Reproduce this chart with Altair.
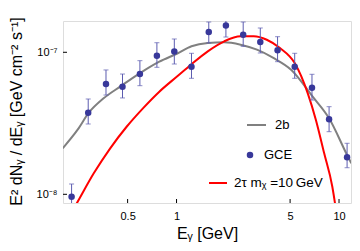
import altair as alt
import pandas as pd

# GCE data points (E in GeV, E^2 dN/dE in GeV cm^-2 s^-1)
E_pts = [0.226, 0.286, 0.368, 0.465, 0.595, 0.757, 0.969, 1.236, 1.579, 2.013,
         2.572, 3.277, 4.186, 5.336, 6.817, 8.686, 11.21]
flux = [9.62e-9, 3.755e-8, 5.98e-8, 5.725e-8, 7.03e-8, 9.46e-8, 1.013e-7, 7.92e-8,
        1.39e-7, 1.544e-7, 1.33e-7, 1.182e-7, 1.033e-7, 7.92e-8, 5.63e-8, 3.375e-8, 1.822e-8]
err_hi = [1.181e-8, 4.69e-8, 7.51e-8, 7.03e-8, 8.73e-8, 1.168e-7, 1.241e-7, 9.84e-8,
          1.634e-7, 1.862e-7, 1.634e-7, 1.483e-7, 1.288e-7, 9.84e-8, 7.00e-8, 4.14e-8, 2.287e-8]
err_lo = [7.83e-9, 3.127e-8, 5.00e-8, 4.77e-8, 5.82e-8, 7.84e-8, 8.27e-8, 6.56e-8,
          1.163e-7, 1.281e-7, 1.102e-7, 9.89e-8, 8.59e-8, 6.56e-8, 4.61e-8, 2.76e-8, 1.539e-8]

# 2b curve
E_2b = [0.1993, 0.2456, 0.2886, 0.3557, 0.4488, 0.593, 0.7836, 1.011, 1.236, 1.557,
        1.966, 2.48, 3.125, 3.944, 5.089, 6.885, 8.686, 11.21, 11.9]
F_2b = [2.11e-8, 2.84e-8, 3.755e-8, 4.74e-8, 5.725e-8, 7.11e-8, 8.59e-8, 9.81e-8,
        1.102e-7, 1.163e-7, 1.176e-7, 1.131e-7, 1.043e-7, 9.12e-8, 7.51e-8, 4.87e-8,
        3.43e-8, 1.89e-8, 1.653e-8]

# 2tau, m_chi = 10 GeV curve
E_tau = [0.2, 0.2432, 0.3094, 0.3906, 0.4929, 0.6212, 0.7836, 1.011, 1.236, 1.557,
         1.966, 2.48, 2.985, 3.592, 4.329, 5.336, 6.422, 7.206, 8.104, 9.095, 9.446, 9.75]
F_tau = [5.89e-9, 8.64e-9, 1.405e-8, 2.108e-8, 2.99e-8, 4.03e-8, 5.28e-8, 6.78e-8,
         8.25e-8, 1.016e-7, 1.195e-7, 1.296e-7, 1.296e-7, 1.226e-7, 1.072e-7, 8.4e-8,
         5.14e-8, 3.34e-8, 1.944e-8, 1.131e-8, 8.64e-9, 6.6e-9]

x_ticks = [0.5, 1, 5, 10]
y_ticks = [1e-8, 1e-7]

FONT = "Liberation Sans"
W, H = 288, 182

pts = pd.DataFrame({"E": E_pts, "F": flux, "hi": err_hi, "lo": err_lo})
c2b = pd.DataFrame({"E": E_2b, "F": F_2b})
ctau = pd.DataFrame({"E": E_tau, "F": F_tau})
one = pd.DataFrame({"a": [0]})

xs = alt.Scale(type="log", domain=[0.2001, 11.85], nice=False)
ys = alt.Scale(type="log", domain=[8.685e-9, 1.661e-7], nice=False)

x_axis = alt.Axis(values=x_ticks, ticks=False, tickSize=0, domain=False, grid=False,
                  labelFont=FONT, labelFontSize=11, labelColor="black", labelPadding=7,
                  labelExpr="datum.value == 0.5 ? '0.5' : format(datum.value, 'd')",
                  title="Eᵧ  [GeV]", titleFont=FONT, titleFontSize=16, titleFontWeight="normal",
                  titleColor="black", titleBaseline="alphabetic", titleY=35)
y_axis = alt.Axis(values=y_ticks, ticks=False, tickSize=0, domain=False, grid=False,
                  labelFont=FONT, labelFontSize=11, labelColor="black", labelPadding=6,
                  labelExpr="datum.value < 5e-8 ? '10⁻⁸' : '10⁻⁷'",
                  title="E² dNᵧ / dEᵧ   [GeV cm⁻² s⁻¹]", titleFont=FONT, titleFontSize=16,
                  titleFontWeight="normal", titleColor="black", titleAngle=-90,
                  titleBaseline="alphabetic", titleX=-42, titleY=90, titleAlign="center")

gray = alt.Chart(c2b).mark_line(color="#808080", strokeWidth=2, interpolate="monotone", clip=True).encode(
    x=alt.X("E:Q", scale=xs, axis=x_axis),
    y=alt.Y("F:Q", scale=ys, axis=y_axis),
)
red = alt.Chart(ctau).mark_line(color="#ff0000", strokeWidth=2, interpolate="monotone", clip=True).encode(
    x=alt.X("E:Q", scale=xs), y=alt.Y("F:Q", scale=ys)
)
bars = alt.Chart(pts).mark_rule(color="#5c5cb0", strokeWidth=1, clip=True).encode(
    x=alt.X("E:Q", scale=xs), y=alt.Y("lo:Q", scale=ys), y2="hi:Q"
)
cap_hi = alt.Chart(pts).mark_tick(color="#5c5cb0", orient="horizontal", size=5, thickness=1, clip=True).encode(
    x=alt.X("E:Q", scale=xs), y=alt.Y("hi:Q", scale=ys)
)
cap_lo = alt.Chart(pts).mark_tick(color="#5c5cb0", orient="horizontal", size=5, thickness=1, clip=True).encode(
    x=alt.X("E:Q", scale=xs), y=alt.Y("lo:Q", scale=ys)
)
dots = alt.Chart(pts).mark_circle(color="#38389a", size=42, opacity=1, clip=True).encode(
    x=alt.X("E:Q", scale=xs), y=alt.Y("F:Q", scale=ys)
)

xt = alt.Chart(pd.DataFrame({"t": x_ticks})).mark_rule(color="black", strokeWidth=1).encode(
    x=alt.X("t:Q", scale=xs), y=alt.value(H), y2=alt.value(H - 4)
)
yt = alt.Chart(pd.DataFrame({"t": y_ticks})).mark_rule(color="black", strokeWidth=1).encode(
    y=alt.Y("t:Q", scale=ys), x=alt.value(0), x2=alt.value(4)
)

# legend
leg_2b_line = alt.Chart(one).mark_rule(color="#808080", strokeWidth=2).encode(
    x=alt.value(184), x2=alt.value(203), y=alt.value(104))
leg_2b_text = alt.Chart(one).mark_text(text="2b", font=FONT, fontSize=13, align="left",
                                       baseline="middle", color="black").encode(
    x=alt.value(212), y=alt.value(104))
leg_gce_dot = alt.Chart(one).mark_circle(color="#38389a", size=42, opacity=1).encode(
    x=alt.value(187), y=alt.value(134))
leg_gce_text = alt.Chart(one).mark_text(text="GCE", font=FONT, fontSize=13, align="left",
                                        baseline="middle", color="black").encode(
    x=alt.value(201), y=alt.value(134))
leg_tau_line = alt.Chart(one).mark_rule(color="#ff0000", strokeWidth=2).encode(
    x=alt.value(146), x2=alt.value(164), y=alt.value(162))
leg_tau_text = alt.Chart(one).mark_text(text="2τ  mᵪ =10\u2009GeV", font=FONT, fontSize=13.5, align="left",
                                        baseline="middle", color="black").encode(
    x=alt.value(171), y=alt.value(162))

chart = alt.layer(
    gray, red, bars, cap_hi, cap_lo, dots, xt, yt,
    leg_2b_line, leg_2b_text, leg_gce_dot, leg_gce_text, leg_tau_line, leg_tau_text
).properties(
    width=W, height=H,
    autosize=alt.AutoSizeParams(type="none"),
    padding={"left": 55, "top": 13, "right": 1, "bottom": 40},
).configure_view(
    stroke="black", strokeWidth=1.3
).configure(background="white")

chart.save("out.html", embed_options={"renderer": "svg", "actions": False})
